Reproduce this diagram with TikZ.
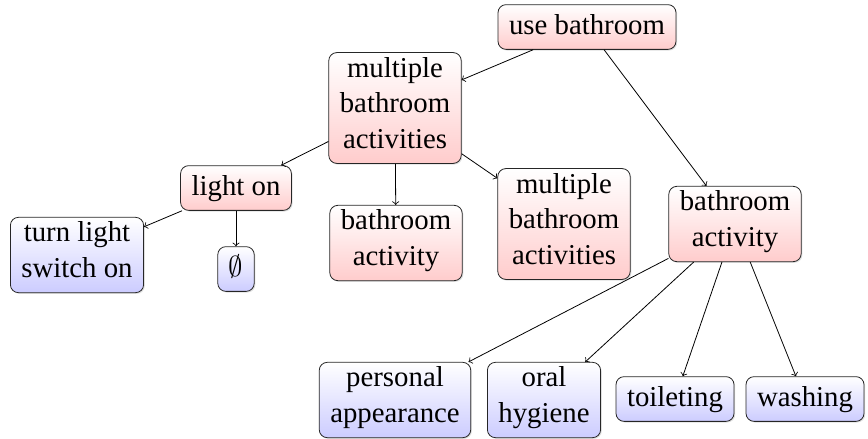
\documentclass[tikz,border=0pt]{standalone}
\usepackage{fontspec}
\setmainfont{Liberation Serif}
\usetikzlibrary{shadows}
\begin{document}
\begin{tikzpicture}[x=0.5pt,y=-0.5pt,
  hbox/.style={draw=black!85, rounded corners=4pt, align=center,
    inner xsep=5.5pt, inner ysep=2.3pt,
    font=\rmfamily\fontsize{14.4}{17.75}\selectfont,
    execute at begin node=\strut,
    drop shadow={opacity=0.25, shadow xshift=0.6pt, shadow yshift=-0.6pt}},
  taskbox/.style={hbox, top color=white, bottom color=red!20},
  leafbox/.style={hbox, top color=white, bottom color=blue!20},
  link/.style={->, black}]
\useasboundingbox (0,0) rectangle (868,439);

% task nodes
\node[taskbox] (ub)  at (587,27)  {use bathroom};
\node[taskbox] (mbt) at (395,108) {multiple\\bathroom\\activities\strut};
\node[taskbox] (lo)  at (236,188) {light on};
\node[taskbox] (ba1) at (396,243) {bathroom\\activity\strut};
\node[taskbox] (mbr) at (564,224) {multiple\\bathroom\\activities\strut};
\node[taskbox] (ba2) at (735,224) {bathroom\\activity\strut};

% primitive actions
\node[leafbox] (tl) at (77,255)  {turn light\\switch on\strut};
\node[leafbox] (es) at (236,269) {$\emptyset$};
\node[leafbox] (pa) at (395,400) {personal\\appearance\strut};
\node[leafbox] (oh) at (544,400) {oral\\hygiene\strut};
\node[leafbox] (to) at (675,399) {toileting};
\node[leafbox] (wa) at (805,399) {washing};

% decomposition links
\draw[link] (ub)  -- (mbt);
\draw[link] (ub)  -- (ba2);
\draw[link] (mbt) -- (lo);
\draw[link] (mbt) -- (ba1);
\draw[link] (mbt) -- (mbr);
\draw[link] (lo)  -- (tl);
\draw[link] (lo)  -- (es);
\draw[link] (ba2) -- (pa);
\draw[link] (ba2) -- (oh);
\draw[link] (ba2) -- (to);
\draw[link] (ba2) -- (wa);
\end{tikzpicture}
\end{document}
